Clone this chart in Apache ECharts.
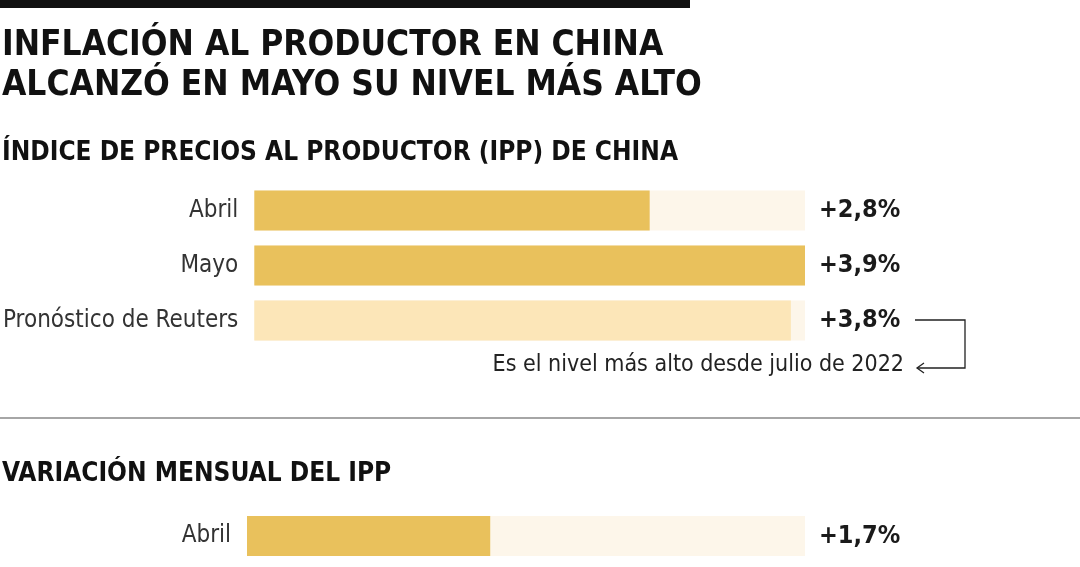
<!DOCTYPE html>
<html><head><meta charset="utf-8">
<script src="https://cdn.jsdelivr.net/npm/echarts@6/dist/echarts.min.js"></script>
<style>html,body{margin:0;background:#fff}#c{width:1080px;height:567px}</style>
</head><body><div id="c"></div>
<script>
const cats1 = ['Abril','Mayo','Pronóstico de Reuters'];
const vals1 = [2.8,3.9,3.8];
const cats2 = ['Abril'];
const vals2 = [1.7];
const scaleMax = 3.9;
const F = '"DejaVu Sans Condensed","Liberation Sans Narrow","Noto Sans",sans-serif';
const fmt = v => '+' + v.toFixed(1).replace('.', ',') + '%';
const chart = echarts.init(document.getElementById('c'));
function series(idx, cats, vals, colors){
  return [
    {type:'bar', xAxisIndex:idx, yAxisIndex:idx, barWidth:40, barGap:'-100%', silent:true,
     data: cats.map(()=>scaleMax), itemStyle:{color:'#fdf6ea'}, z:1,
     label:{show:true, position:'right', distance:14, fontFamily:F, fontWeight:'bold', fontSize:25, color:'#1a1a1a',
       formatter:p=>fmt(vals[p.dataIndex])}},
    {type:'bar', xAxisIndex:idx, yAxisIndex:idx, barWidth:40, z:2,
     data: vals.map((v,i)=>({value:v, itemStyle:{color:colors[i]}}))}
  ];
}
const yax = (idx, cats) => ({type:'category', gridIndex:idx, data:cats, inverse:true,
  axisLine:{show:false}, axisTick:{show:false},
  axisLabel:{fontFamily:F, fontSize:24, color:'#333', margin:16}});
const xax = idx => ({type:'value', gridIndex:idx, min:0, max:scaleMax, show:false});
chart.setOption({
  animation:false,
  grid:[{left:247, width:558, top:183, height:165},{left:247, width:558, top:508, height:56}],
  xAxis:[xax(0), xax(1)],
  yAxis:[yax(0,cats1), yax(1,cats2)],
  series:[...series(0,cats1,vals1,['#e9c15c','#e9c15c','#fce6b8']), ...series(1,cats2,vals2,['#e9c15c'])],
  graphic:[
    {type:'rect', shape:{x:0,y:0,width:690,height:8}, style:{fill:'#111'}},
    {type:'text', left:2, top:26, style:{text:'INFLACIÓN AL PRODUCTOR EN CHINA\nALCANZÓ EN MAYO SU NIVEL MÁS ALTO', font:'bold 35px '+F, fill:'#111', lineHeight:40}},
    {type:'text', left:2, top:140, style:{text:'ÍNDICE DE PRECIOS AL PRODUCTOR (IPP) DE CHINA', font:'bold 26px '+F, fill:'#111'}},
    {type:'text', left:2, top:461, style:{text:'VARIACIÓN MENSUAL DEL IPP', font:'bold 26px '+F, fill:'#111'}},
    {type:'text', right:176, top:354, style:{text:'Es el nivel más alto desde julio de 2022', font:'23px '+F, fill:'#222', align:'right'}},
    {type:'polyline', shape:{points:[[915,320],[965,320],[965,368],[917,368]]}, style:{stroke:'#222', lineWidth:1.3, fill:null}},
    {type:'polyline', shape:{points:[[924,363],[917,368],[924,373]]}, style:{stroke:'#222', lineWidth:1.3, fill:null}},
    {type:'line', shape:{x1:0,y1:418,x2:1080,y2:418}, style:{stroke:'#888', lineWidth:1.3}}
  ]
});
</script></body></html>
